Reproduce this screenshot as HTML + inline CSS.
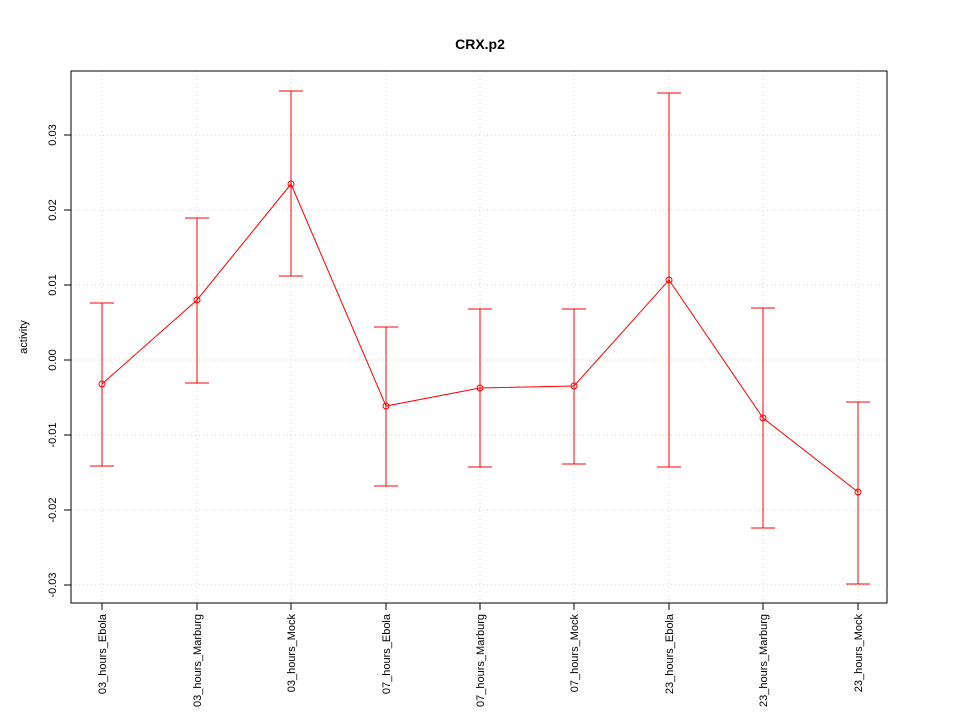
<!DOCTYPE html>
<html><head><meta charset="utf-8"><style>body{margin:0;background:#fff}</style></head><body>
<svg width="960" height="720" xmlns="http://www.w3.org/2000/svg" font-family="Liberation Sans, sans-serif">
<rect width="960" height="720" fill="#fff"/>
<text x="480" y="49" text-anchor="middle" font-size="14" font-weight="bold">CRX.p2</text>
<g stroke="#d3d3d3" stroke-dasharray="1,3" stroke-width="1">
<line x1="102" y1="71" x2="102" y2="603"/><line x1="197" y1="71" x2="197" y2="603"/><line x1="291" y1="71" x2="291" y2="603"/>
<line x1="386" y1="71" x2="386" y2="603"/><line x1="480" y1="71" x2="480" y2="603"/><line x1="574" y1="71" x2="574" y2="603"/>
<line x1="669" y1="71" x2="669" y2="603"/><line x1="763" y1="71" x2="763" y2="603"/><line x1="858" y1="71" x2="858" y2="603"/>
<line x1="71" y1="135" x2="887" y2="135"/><line x1="71" y1="210" x2="887" y2="210"/><line x1="71" y1="285" x2="887" y2="285"/>
<line x1="71" y1="360" x2="887" y2="360"/><line x1="71" y1="435" x2="887" y2="435"/><line x1="71" y1="510" x2="887" y2="510"/><line x1="71" y1="585" x2="887" y2="585"/>
</g>
<rect x="71" y="71" width="816" height="532" fill="none" stroke="#000"/>
<g stroke="#000">
<line x1="71" y1="135" x2="64" y2="135"/><line x1="71" y1="210" x2="64" y2="210"/><line x1="71" y1="285" x2="64" y2="285"/><line x1="71" y1="360" x2="64" y2="360"/><line x1="71" y1="435" x2="64" y2="435"/><line x1="71" y1="510" x2="64" y2="510"/><line x1="71" y1="585" x2="64" y2="585"/>
<line x1="102" y1="603" x2="102" y2="610"/><line x1="197" y1="603" x2="197" y2="610"/><line x1="291" y1="603" x2="291" y2="610"/><line x1="386" y1="603" x2="386" y2="610"/><line x1="480" y1="603" x2="480" y2="610"/><line x1="574" y1="603" x2="574" y2="610"/><line x1="669" y1="603" x2="669" y2="610"/><line x1="763" y1="603" x2="763" y2="610"/><line x1="858" y1="603" x2="858" y2="610"/>
</g>
<g font-size="11" text-anchor="middle">
<text transform="translate(56,135) rotate(-90)">0.03</text><text transform="translate(56,210) rotate(-90)">0.02</text><text transform="translate(56,285) rotate(-90)">0.01</text><text transform="translate(56,360) rotate(-90)">0.00</text><text transform="translate(56,435) rotate(-90)">-0.01</text><text transform="translate(56,510) rotate(-90)">-0.02</text><text transform="translate(56,585) rotate(-90)">-0.03</text>
<text transform="translate(27,337) rotate(-90)">activity</text>
</g>
<g font-size="11" text-anchor="end">
<text transform="translate(106,614) rotate(-90)">03_hours_Ebola</text><text transform="translate(201,614) rotate(-90)">03_hours_Marburg</text><text transform="translate(295,614) rotate(-90)">03_hours_Mock</text><text transform="translate(390,614) rotate(-90)">07_hours_Ebola</text><text transform="translate(484,614) rotate(-90)">07_hours_Marburg</text><text transform="translate(578,614) rotate(-90)">07_hours_Mock</text><text transform="translate(673,614) rotate(-90)">23_hours_Ebola</text><text transform="translate(767,614) rotate(-90)">23_hours_Marburg</text><text transform="translate(862,614) rotate(-90)">23_hours_Mock</text>
</g>
<g stroke="#ff0000" fill="none" stroke-width="1">
<path d="M102,303V466M90,303H114M90,466H114"/>
<path d="M197,218V383M185,218H209M185,383H209"/>
<path d="M291,91V276M279,91H303M279,276H303"/>
<path d="M386,327V486M374,327H398M374,486H398"/>
<path d="M480,309V467M468,309H492M468,467H492"/>
<path d="M574,309V464M562,309H586M562,464H586"/>
<path d="M669,93V467M657,93H681M657,467H681"/>
<path d="M763,308V528M751,308H775M751,528H775"/>
<path d="M858,402V584M846,402H870M846,584H870"/>
<polyline points="102,384 197,300 291,184 386,406 480,388 574,386 669,280 763,418 858,492"/>
<circle cx="102" cy="384" r="3"/><circle cx="197" cy="300" r="3"/><circle cx="291" cy="184" r="3"/><circle cx="386" cy="406" r="3"/><circle cx="480" cy="388" r="3"/><circle cx="574" cy="386" r="3"/><circle cx="669" cy="280" r="3"/><circle cx="763" cy="418" r="3"/><circle cx="858" cy="492" r="3"/>
</g>
</svg>
</body></html>
